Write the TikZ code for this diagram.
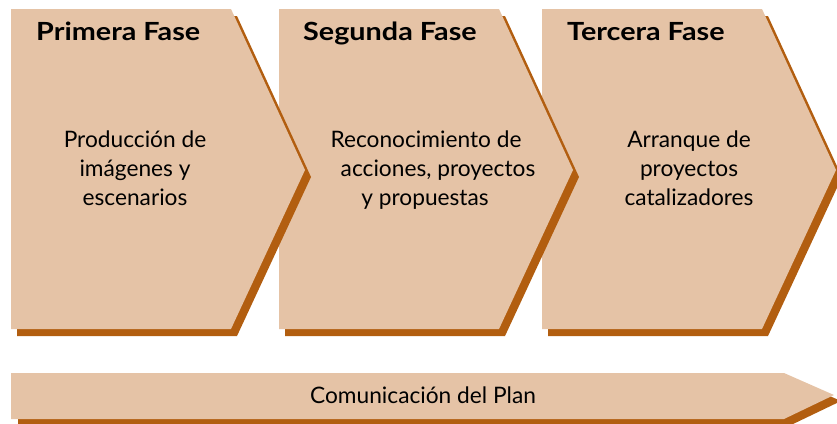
\documentclass[tikz,border=0pt]{standalone}
\usepackage{fontspec}
\setmainfont{Lato}
\newfontfamily\titlefont[FakeStretch=1.15]{Lato}
\definecolor{chevfill}{RGB}{229,195,166}
\definecolor{chevshadow}{RGB}{178,94,16}
\tikzset{
  chev/.style={fill=chevfill, draw=none},
  chevshad/.style={fill=chevshadow, draw=none},
  title/.style={anchor=base west, font=\titlefont\bfseries\fontsize{25}{30}\selectfont, inner sep=0pt},
  body/.style={anchor=base, font=\fontsize{22.7}{27}\selectfont, inner sep=0pt},
}
\begin{document}
\begin{tikzpicture}[x=1pt,y=-1pt]
\useasboundingbox (0,0) rectangle (837,423);
% bottom arrow
\fill[chevshad,shift={(7,6)}] (11,373) -- (784,373) -- (834,395) -- (784,419) -- (11,419) -- cycle;
\fill[chev] (11,373) -- (784,373) -- (834,395) -- (784,419) -- (11,419) -- cycle;
% phase chevrons, drawn right to left so each tip lies on the next box
\foreach \x in {542,279,11}{
  \fill[chevshad,shift={(\x+6,7)}] (0,9) -- (220,9) -- (294,170) -- (220,329) -- (0,329) -- cycle;
  \fill[chev,shift={(\x,0)}] (0,9) -- (220,9) -- (294,170) -- (220,329) -- (0,329) -- cycle;
}
% titles
\node[title] (t1) at (36,40) {Primera Fase};
\node[title] (t2) at (303,40) {Segunda Fase};
\node[title] (t3) at (567,40) {Tercera Fase};
% body
\node[body] (a1) at (135,147) {Producción de};
\node[body] (a2) at (135,176) {imágenes y};
\node[body] (a3) at (135,205) {escenarios};
\node[body] (b1) at (426,147) {Reconocimiento de};
\node[body] (b2) at (438,176) {acciones, proyectos};
\node[body] (b3) at (425,205) {y propuestas};
\node[body] (c1) at (689,147) {Arranque de};
\node[body] (c2) at (689,176) {proyectos};
\node[body] (c3) at (689,205) {catalizadores};
\node[body] (com) at (423,403) {Comunicación del Plan};
\end{tikzpicture}
\end{document}
